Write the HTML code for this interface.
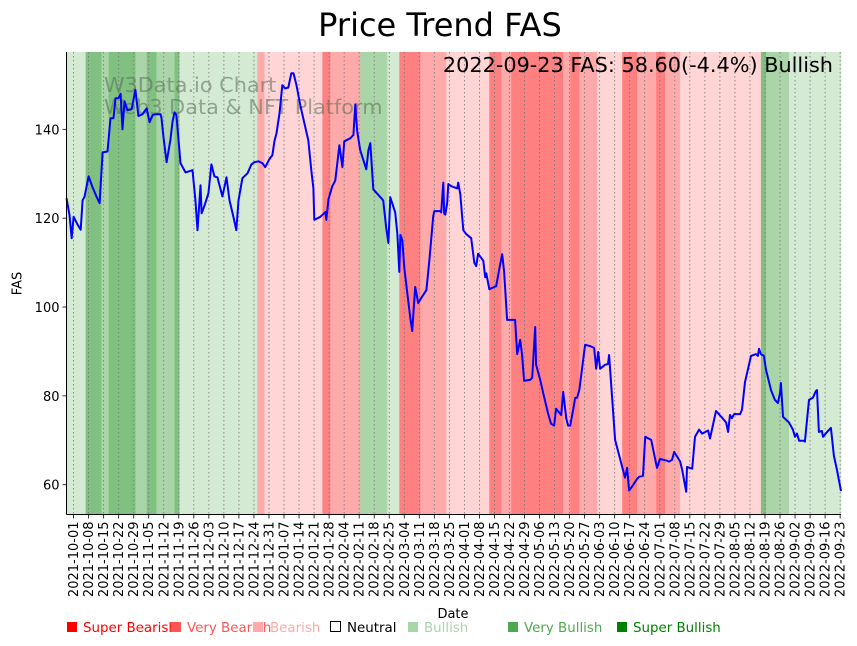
<!DOCTYPE html>
<html><head><meta charset="utf-8">
<style>
html,body{margin:0;padding:0;background:#fff;}
svg{display:block;font-family:"DejaVu Sans","Liberation Sans",sans-serif;}
</style></head>
<body>
<svg id="chart" width="857" height="646" viewBox="0 0 857 646"></svg>
<script>
const days=[-3.3,-1.9,-0.9,0,1.9,3.3,4.2,5.1,7.0,8.8,10.7,12.1,13.5,15.8,17.2,18.6,19.5,20.9,21.9,22.8,23.7,25.1,27.0,28.8,30.2,32.1,34.0,35.4,36.8,38.2,40.5,40.9,41.9,43.3,45.1,46.1,47.0,47.9,49.8,52.1,55.4,56.8,57.7,59.1,59.6,61.0,62.8,64.2,65.6,67.0,69.3,71.2,72.6,74.4,75.8,76.8,78.6,81.0,82.8,84.2,86.1,87.9,89.3,91.2,92.6,93.5,94.5,95.9,97.2,98.6,100.0,101.4,102.4,103.8,105.6,109.3,110.7,111.7,112.1,114.9,117.3,117.7,118.7,120.5,121.9,123.8,125.2,126.1,128.9,130.3,131.2,132.1,133.5,136.3,137.3,138.2,139.6,144.2,145.6,146.6,147.5,149.8,150.8,151.7,152.2,153.1,154.0,156.8,157.7,159.1,160.5,161.9,164.3,165.7,167.5,168.0,170.8,171.2,172.2,172.6,173.1,174.0,174.5,175.9,178.7,179.1,180.1,181.5,182.9,185.2,186.6,187.5,188.4,190.8,191.7,192.2,193.6,196.8,198.2,199.6,200.5,201.9,202.9,205.6,206.6,208.0,208.9,209.8,212.6,213.6,215.0,215.4,217.3,219.2,221.0,222.4,223.8,224.7,227.1,228.0,229.4,230.3,231.3,232.7,233.6,234.5,235.5,238.2,240.6,242.4,243.4,244.3,245.2,247.5,248.9,249.4,252.2,255.5,256.8,257.8,258.7,260.1,262.4,263.4,265.2,266.2,269.0,271.7,273.1,276.4,277.3,278.7,279.7,282.5,283.4,285.3,285.7,288.1,289.4,291.3,292.7,295.5,296.4,299.2,302.0,303.9,304.8,305.7,306.6,307.6,310.4,311.3,312.7,315.5,317.8,318.7,319.2,320.1,321.5,322.5,324.8,326.6,328.0,329.0,329.4,330.4,333.2,335.0,336.0,336.9,337.9,340.2,340.6,342.5,344.3,345.7,346.2,347.1,348.5,349.0,351.3,352.7,354.1,355.5,357.4];
const prices=[124.5,120.7,115.5,120.3,118.5,117.4,124,124.8,129.4,127,124.8,123.4,134.8,135,142.5,142.5,147,147,148,140,146.3,144.3,144.5,148.9,143,143.4,144.7,141.6,143.2,143.4,143.4,142.7,138,132.6,137.6,141.8,143.8,143.2,132.4,130.3,130.8,123.8,117.3,127.4,121.1,122.9,125.6,132.1,129.4,129.2,124.9,129.2,124,120.4,117.3,124,129,130.1,132.1,132.6,132.8,132.4,131.5,133.3,134.2,137.3,139.1,143.6,149.9,149.2,149.4,152.6,152.6,149.9,145.4,137.5,130.8,126.7,119.6,120.3,121.4,119.6,124.3,127.2,128.5,136.4,131.5,137.3,138,138.7,145.6,139.6,135.3,131,135.3,136.9,126.5,124,117.8,114.4,124.7,121.3,116.4,107.9,116.2,115.1,108.8,97.5,94.6,104.5,100.9,102,103.8,110.6,120.4,121.6,121.6,121.3,128,121,120.8,123.4,127.7,127.2,126.7,128,125.4,117.3,116.4,115.5,110,109.2,112,110.4,106.7,107.6,104,104.7,108.5,111.9,108,97.1,97.1,97.1,89.4,92.6,89.2,83.4,83.6,84.1,95.5,87,83.6,79.6,76,73.7,73.3,77.1,75.7,80.9,75,73.3,73.3,76.9,79.6,79.6,81.3,91.5,91.2,90.8,86.1,89.9,86.1,87,87.2,89.2,70.1,64,61.6,63.8,58.7,59.6,61.3,61.8,62,70.8,70.1,63.8,65.8,65.4,65.2,65.6,67.4,65.2,63.4,58.4,64,63.6,70.8,72.4,71.5,72.2,70.4,76.6,75.1,74,71.9,75.7,75,75.9,75.9,76.9,83.1,89,89.4,89,90.6,89.4,89,85.8,81.3,79.1,78.4,80.6,82.9,75.3,74,72.4,70.8,71.5,69.9,69.9,69.7,79.1,79.6,81.1,81.3,71.9,72.1,70.8,72.1,72.8,66.5,63.4,58.6];
const bandStart=[-3.3,5.6,13,16.3,28.8,34,38.6,47,49.3,85.6,88.9,115.9,119.6,133.5,146.1,151.7,161.5,173.6,193.6,199.2,203.8,228,231.3,235.5,243.8,255.5,262.4,271.3,275.5,282.5,320.1,322.5,333.2];
const bandEnd=[5.6,13,16.3,28.8,34,38.6,47,49.3,85.6,88.9,115.9,119.6,133.5,146.1,151.7,161.5,173.6,193.6,199.2,203.8,228,231.3,235.5,243.8,255.5,262.4,271.3,275.5,282.5,320.1,322.5,333.2,357.4];
const bandLevel=[1,3,2,3,2,3,2,3,1,-2,-1,-3,-2,2,1,-3,-2,-1,-3,-2,-3,-2,-3,-2,-1,-3,-2,-3,-2,-1,3,2,1];
const yTicks=[60,80,100,120,140];
const startDate=new Date(Date.UTC(2021,9,1));

const L=66.5,R=841,T=52,B=514.5;
const dMin=-3.3,dMax=357.4,vMin=53.3,vMax=157.4;
const xS=d=>L+(d-dMin)/(dMax-dMin)*(R-L);
const yS=v=>B-(v-vMin)/(vMax-vMin)*(B-T);
const colors={"3":"#80c080","2":"#aad5a8","1":"#d5ead3","-1":"#ffd5d5","-2":"#ffaaaa","-3":"#ff8080"};
const NS="http://www.w3.org/2000/svg";
const svg=document.getElementById('chart');
function mk(tag,attrs,parent){const e=document.createElementNS(NS,tag);for(const k in attrs)e.setAttribute(k,attrs[k]);(parent||svg).appendChild(e);return e;}

const bg=mk('g',{});


for(let i=0;i<bandStart.length;i++){
  const r=mk('rect',{x:xS(bandStart[i]),y:T,width:xS(bandEnd[i])-xS(bandStart[i])+0.4,height:B-T,fill:colors[bandLevel[i]]},bg);
  
  
}
const xt=mk('g',{});


for(let d=0;d<=357;d+=7){
  const x=xS(d);
  mk('line',{x1:x,x2:x,y1:T,y2:B,stroke:'#777','stroke-width':0.8,'stroke-dasharray':'1.5,2.5'},xt);
  mk('line',{x1:x,x2:x,y1:B,y2:B+4,stroke:'#000','stroke-width':0.8},xt);
  const dt=new Date(startDate.getTime()+d*86400000);
  const s=dt.toISOString().slice(0,10);
  const t=mk('text',{x:0,y:0,transform:`translate(${x+4.5},${B+7}) rotate(-90)`,'text-anchor':'end','font-size':13,fill:'#000'},xt);
  t.textContent=s;
  
  
}
const wm=mk('text',{x:104,y:92,'font-size':20.8,fill:'#556b55','fill-opacity':0.55});
wm.textContent='W3Data.io Chart';


const wm2=mk('text',{x:104,y:114,'font-size':20.8,fill:'#556b55','fill-opacity':0.55});
wm2.textContent='Web3 Data & NFT Platform';


let dstr='';
for(let i=0;i<days.length;i++){dstr+=(i?'L':'M')+xS(days[i]).toFixed(1)+','+yS(prices[i]).toFixed(1);}
const pl=mk('path',{d:dstr,fill:'none',stroke:'#0000ff','stroke-width':2,'stroke-linejoin':'round'});


const ya=mk('g',{});


yTicks.forEach(v=>{
  const y=yS(v);
  mk('line',{x1:L-4,x2:L,y1:y,y2:y,stroke:'#000','stroke-width':0.8},ya);
  const t=mk('text',{x:L-7,y:y+5,'text-anchor':'end','font-size':13,fill:'#000'},ya);
  t.textContent=v;
  
  
});
mk('line',{x1:L,x2:L,y1:T,y2:B,stroke:'#000','stroke-width':1});
mk('line',{x1:L,x2:R,y1:B,y2:B,stroke:'#000','stroke-width':1});
</script>
<div style="position:absolute;left:0;top:0;width:857px;height:646px;pointer-events:none;font-family:'DejaVu Sans','Liberation Sans',sans-serif;">
  <div style="position:absolute;left:0;width:880px;top:6px;text-align:center;font-size:32px;">Price Trend FAS</div>
  <div style="position:absolute;right:24px;top:53px;font-size:20.8px;white-space:nowrap;">2022-09-23 FAS: 58.60(-4.4%) Bullish</div>
  <div style="position:absolute;left:-2px;top:276px;font-size:13px;transform:rotate(-90deg);width:40px;text-align:center;">FAS</div>
  <div style="position:absolute;left:423px;top:607px;width:60px;text-align:center;font-size:13px;">Date</div>
  <div style="position:absolute;left:0;top:621px;font-size:13.4px;width:857px;height:20px;">
    <span style="position:absolute;left:67px;top:0;color:#ff0000;white-space:nowrap;"><span style="display:inline-block;width:10px;height:10px;background:#ff0000;margin-right:6px;"></span>Super Bearish</span>
    <span style="position:absolute;left:171px;top:0;color:#ff5555;white-space:nowrap;"><span style="display:inline-block;width:10px;height:10px;background:#ff5555;margin-right:6px;"></span>Very Bearish</span>
    <span style="position:absolute;left:253px;top:0;color:#ffaaaa;white-space:nowrap;"><span style="display:inline-block;width:10px;height:10px;background:#ffaaaa;margin-right:7px;"></span>Bearish</span>
    <span style="position:absolute;left:330px;top:0;color:#000;white-space:nowrap;"><span style="display:inline-block;width:9px;height:9px;border:1px solid #000;margin-right:6px;"></span>Neutral</span>
    <span style="position:absolute;left:408px;top:0;color:#aad5a8;white-space:nowrap;"><span style="display:inline-block;width:10px;height:10px;background:#aad5a8;margin-right:6px;"></span>Bullish</span>
    <span style="position:absolute;left:508px;top:0;color:#4fa84f;white-space:nowrap;"><span style="display:inline-block;width:10px;height:10px;background:#4fa84f;margin-right:6px;"></span>Very Bullish</span>
    <span style="position:absolute;left:617px;top:0;color:#008000;white-space:nowrap;"><span style="display:inline-block;width:10px;height:10px;background:#008000;margin-right:6px;"></span>Super Bullish</span>
  </div>
</div>
</body></html>
